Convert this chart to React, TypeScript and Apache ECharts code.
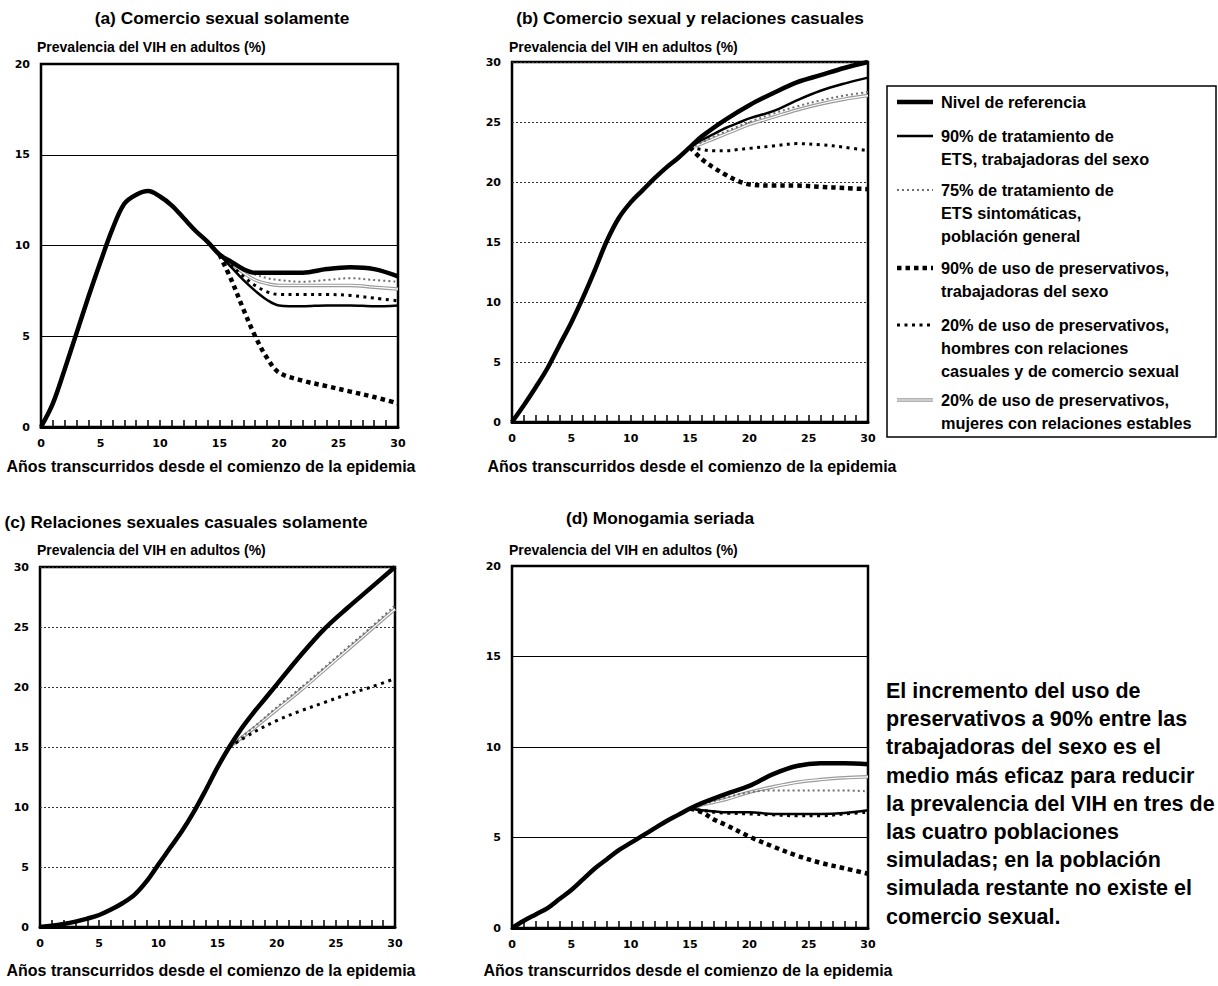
import React, { useEffect, useRef } from "react";
import * as echarts from "echarts";

// ---------------- DATA ----------------
const xTickValues = [0, 5, 10, 15, 20, 25, 30];

// (a) Comercio sexual solamente
const yrsRefA = [0, 1, 2, 3, 4, 5, 6, 7, 8, 9, 10, 11, 12, 13, 14, 15, 16, 17, 18, 19, 20, 22, 24, 26, 28, 30];
const refA = [0, 1.3, 3.2, 5.2, 7.2, 9.1, 10.9, 12.3, 12.8, 13.0, 12.7, 12.2, 11.5, 10.8, 10.2, 9.5, 9.1, 8.7, 8.5, 8.5, 8.5, 8.5, 8.7, 8.8, 8.7, 8.3];
const yrsBrA = [15, 16, 17, 18, 19, 20, 22, 24, 26, 28, 30];
const ets90A = [9.5, 8.8, 8.1, 7.5, 7.0, 6.7, 6.65, 6.7, 6.7, 6.65, 6.7];
const sti75A = [9.5, 9.1, 8.7, 8.4, 8.2, 8.1, 8.0, 8.1, 8.2, 8.1, 8.0];
const cond90A = [9.5, 8.1, 6.5, 5.0, 3.8, 3.0, 2.55, 2.25, 1.95, 1.65, 1.3];
const men20A = [9.5, 8.9, 8.3, 7.8, 7.45, 7.3, 7.3, 7.3, 7.25, 7.1, 6.95];
const women20A = [9.5, 9.0, 8.5, 8.1, 7.9, 7.8, 7.8, 7.8, 7.8, 7.7, 7.6];

// (b) Comercio sexual y relaciones casuales
const yrsRefB = [0, 1, 2, 3, 4, 5, 6, 7, 8, 9, 10, 11, 12, 13, 14, 15, 16, 18, 20, 22, 24, 26, 28, 30];
const refB = [0, 1.4, 2.9, 4.5, 6.4, 8.3, 10.4, 12.7, 15.1, 17.0, 18.3, 19.3, 20.3, 21.2, 22.0, 22.9, 23.8, 25.2, 26.4, 27.4, 28.3, 28.9, 29.5, 30.0];
const yrsBrB = [15, 16, 17, 18, 19, 20, 22, 24, 26, 28, 30];
const ets90B = [22.9, 23.5, 24.0, 24.5, 24.9, 25.3, 25.9, 26.8, 27.6, 28.2, 28.7];
const sti75B = [22.9, 23.3, 23.8, 24.2, 24.6, 25.0, 25.7, 26.3, 26.8, 27.2, 27.5];
const women20B = [22.9, 23.2, 23.6, 24.0, 24.4, 24.8, 25.4, 26.0, 26.5, 26.9, 27.2];
const men20B = [22.9, 22.7, 22.6, 22.6, 22.7, 22.8, 23.0, 23.2, 23.1, 22.9, 22.6];
const cond90B = [22.9, 21.9, 21.2, 20.6, 20.1, 19.8, 19.7, 19.7, 19.6, 19.5, 19.4];

// (c) Relaciones sexuales casuales solamente
const yrsRefC = [0, 1, 2, 3, 4, 5, 6, 7, 8, 9, 10, 11, 12, 13, 14, 15, 16, 17, 18, 19, 20, 22, 24, 26, 28, 30];
const refC = [0, 0.1, 0.25, 0.45, 0.7, 1.0, 1.45, 2.0, 2.7, 3.8, 5.2, 6.6, 8.0, 9.6, 11.4, 13.3, 15.0, 16.5, 17.8, 19.0, 20.2, 22.6, 24.8, 26.6, 28.3, 30.0];
const yrsBrC = [16, 18, 20, 22, 24, 26, 28, 30];
const sti75C = [15.0, 16.6, 18.3, 19.9, 21.6, 23.3, 25.0, 26.8];
const women20C = [15.0, 16.5, 18.1, 19.7, 21.4, 23.1, 24.8, 26.5];
const men20C = [15.0, 16.2, 17.2, 18.0, 18.7, 19.4, 20.0, 20.7];

// (d) Monogamia seriada
const yrsRefD = [0, 1, 2, 3, 4, 5, 6, 7, 8, 9, 10, 11, 12, 13, 14, 15, 16, 18, 20, 22, 24, 26, 28, 30];
const refD = [0, 0.4, 0.75, 1.1, 1.6, 2.1, 2.7, 3.3, 3.8, 4.3, 4.7, 5.1, 5.5, 5.9, 6.25, 6.6, 6.9, 7.4, 7.85, 8.5, 8.95, 9.1, 9.1, 9.05];
const yrsBrD = [15, 16, 17, 18, 20, 22, 24, 26, 28, 30];
const ets90D = [6.6, 6.5, 6.45, 6.4, 6.4, 6.3, 6.3, 6.3, 6.35, 6.5];
const men20D = [6.6, 6.5, 6.4, 6.35, 6.3, 6.25, 6.2, 6.2, 6.3, 6.4];
const cond90D = [6.6, 6.4, 6.0, 5.7, 5.05, 4.5, 4.0, 3.6, 3.3, 3.0];
const sti75D = [6.6, 6.8, 7.0, 7.2, 7.5, 7.6, 7.6, 7.6, 7.6, 7.55];
const women20D = [6.6, 6.8, 6.95, 7.1, 7.5, 7.8, 8.05, 8.2, 8.3, 8.35];

const yMaxes = [20, 30, 30, 20];
const panelTitles = [
  "(a) Comercio sexual solamente",
  "(b) Comercio sexual y relaciones casuales",
  "(c) Relaciones sexuales casuales solamente",
  "(d) Monogamia seriada",
];
const yAxisName = "Prevalencia del VIH en adultos (%)";
const xAxisName = "Años transcurridos desde el comienzo de la epidemia";
const legendNames = [
  "Nivel de referencia",
  "90% de tratamiento de\nETS, trabajadoras del sexo",
  "75% de tratamiento de\nETS sintomáticas,\npoblación general",
  "90% de uso de preservativos,\ntrabajadoras del sexo",
  "20% de uso de preservativos,\nhombres con relaciones\ncasuales y de comercio sexual",
  "20% de uso de preservativos,\nmujeres con relaciones estables",
];
const noteLines = [
  "El incremento del uso de",
  "preservativos a 90% entre las",
  "trabajadoras del sexo es el",
  "medio más eficaz para reducir",
  "la prevalencia del VIH en tres de",
  "las cuatro poblaciones",
  "simuladas; en la población",
  "simulada restante no existe el",
  "comercio sexual.",
];

// ---------------- LAYOUT / STYLE ----------------
const FONT = '"Liberation Sans", Arial, Helvetica, sans-serif';
const NUMFONT = '"DejaVu Sans", "Liberation Sans", sans-serif';
const grids = [
  { left: 41, top: 64, width: 357, height: 363 },
  { left: 512, top: 62, width: 356, height: 360 },
  { left: 40, top: 567, width: 355, height: 360 },
  { left: 512, top: 566, width: 356, height: 362 },
];
const gridDash: any[] = ["solid", [2, 2], [2, 2], "solid"];

const ST: Record<string, any> = {
  ref: { color: "#000", width: 4.5, type: "solid" },
  ets90: { color: "#000", width: 2.5, type: "solid" },
  sti75: { color: "#6e6e6e", width: 2, type: [2, 3] },
  cond90: { color: "#000", width: 4.5, type: [4.5, 4] },
  men20: { color: "#000", width: 3, type: [3, 4.5] },
  women20: { color: "#9a9a9a", width: 3.5, type: "solid" },
  women20in: { color: "#fff", width: 1.2, type: "solid" },
};

function pairs(xs: number[], ys: number[]) {
  return xs.map((x, i) => [x, ys[i]]);
}

function line(key: string, xs: number[], ys: number[], g: number, z: number) {
  return {
    type: "line",
    name: key,
    xAxisIndex: g,
    yAxisIndex: g,
    data: pairs(xs, ys),
    showSymbol: false,
    symbol: "none",
    smooth: 0.35,
    z,
    silent: true,
    lineStyle: { ...ST[key], cap: "butt", join: "round" },
  };
}

function buildOption() {
  const series: any[] = [];
  const panels = [
    { refX: yrsRefA, ref: refA, brX: yrsBrA, ets90: ets90A, sti75: sti75A, cond90: cond90A, men20: men20A, women20: women20A },
    { refX: yrsRefB, ref: refB, brX: yrsBrB, ets90: ets90B, sti75: sti75B, cond90: cond90B, men20: men20B, women20: women20B },
    { refX: yrsRefC, ref: refC, brX: yrsBrC, ets90: null, sti75: sti75C, cond90: null, men20: men20C, women20: women20C },
    { refX: yrsRefD, ref: refD, brX: yrsBrD, ets90: ets90D, sti75: sti75D, cond90: cond90D, men20: men20D, women20: women20D },
  ];
  panels.forEach((p: any, g) => {
    series.push(line("women20", p.brX, p.women20, g, 2));
    series.push(line("women20in", p.brX, p.women20, g, 3));
    series.push(line("sti75", p.brX, p.sti75, g, 4));
    series.push(line("men20", p.brX, p.men20, g, 5));
    if (p.cond90) series.push(line("cond90", p.brX, p.cond90, g, 6));
    if (p.ets90) series.push(line("ets90", p.brX, p.ets90, g, 7));
    series.push(line("ref", p.refX, p.ref, g, 8));
  });

  const graphic: any[] = [];
  const txt = (text: string, x: number, y: number, size: number, align = "left", extra: any = {}) => ({
    type: "text",
    x,
    y,
    silent: true,
    style: {
      text,
      fill: "#000",
      fontFamily: FONT,
      fontWeight: "bold",
      fontSize: size,
      align,
      verticalAlign: "middle",
      ...extra,
    },
  });
  const titlePos = [
    [222, 18],
    [690, 18],
    [186, 522],
    [660, 518],
  ];
  const yNamePos = [
    [37, 47],
    [509, 47],
    [37, 550],
    [509, 550],
  ];
  const xNamePos = [
    [211, 466],
    [692, 466],
    [211, 970],
    [688, 970],
  ];
  for (let i = 0; i < 4; i++) {
    graphic.push(txt(panelTitles[i], titlePos[i][0], titlePos[i][1], 17.3, "center"));
    graphic.push(txt(yAxisName, yNamePos[i][0], yNamePos[i][1], 14, "left"));
    graphic.push(txt(xAxisName, xNamePos[i][0], xNamePos[i][1], 16, "center"));
  }

  // legend box
  graphic.push({
    type: "rect",
    silent: true,
    shape: { x: 887, y: 86, width: 329, height: 351 },
    style: { fill: "#fff", stroke: "#000", lineWidth: 1.5 },
    z: 1,
  });
  const legKeys = ["ref", "ets90", "sti75", "cond90", "men20", "women20"];
  const legY = [102, 136, 190, 268, 325, 400];
  legKeys.forEach((k, i) => {
    const s = ST[k];
    const y = legY[i];
    graphic.push({
      type: "line",
      silent: true,
      z: 2,
      shape: { x1: 897, y1: y, x2: 933, y2: y },
      style: { stroke: s.color, lineWidth: s.width, lineDash: Array.isArray(s.type) ? s.type : null },
    });
    if (k === "women20") {
      graphic.push({
        type: "line",
        silent: true,
        z: 3,
        shape: { x1: 897, y1: y, x2: 933, y2: y },
        style: { stroke: "#fff", lineWidth: 1.2 },
      });
    }
    graphic.push({
      type: "text",
      silent: true,
      z: 3,
      x: 941,
      y: y - 11.5,
      style: {
        text: legendNames[i],
        fill: "#000",
        fontFamily: FONT,
        fontWeight: "bold",
        fontSize: 16.3,
        lineHeight: 23,
        align: "left",
        verticalAlign: "top",
      },
    });
  });

  // note text
  noteLines.forEach((l, i) => {
    graphic.push(txt(l, 886, 691 + i * 28.2, 21.5, "left", { fontWeight: 900 }));
  });

  const labelStyle = { fontFamily: NUMFONT, fontWeight: "bold", fontSize: 11, color: "#000" };

  return {
    animation: false,
    backgroundColor: "#fff",
    grid: grids.map((g) => ({
      ...g,
      show: true,
      borderColor: "#000",
      borderWidth: 2.5,
      backgroundColor: "transparent",
      containLabel: false,
    })),
    xAxis: grids.map((_, i) => ({
      type: "value",
      gridIndex: i,
      min: 0,
      max: 30,
      interval: 1,
      axisLine: { show: true, onZero: false, lineStyle: { color: "#000", width: 3 } },
      axisTick: { show: true, inside: true, length: 7, lineStyle: { color: "#000", width: 1.5 } },
      axisLabel: {
        ...labelStyle,
        margin: 11,
        hideOverlap: false,
        formatter: (v: number) => (xTickValues.includes(v) ? String(v) : ""),
      },
      splitLine: { show: false },
    })),
    yAxis: grids.map((_, i) => ({
      type: "value",
      gridIndex: i,
      min: 0,
      max: yMaxes[i],
      interval: 5,
      axisLine: { show: false },
      axisTick: { show: false },
      axisLabel: { ...labelStyle, margin: 11 },
      splitLine: { show: true, lineStyle: { color: i === 0 || i === 3 ? "#000" : "#333", width: 1, type: gridDash[i] } },
    })),
    series,
    graphic,
  };
}

export default function App() {
  const ref = useRef<HTMLDivElement>(null);
  useEffect(() => {
    if (!ref.current) return;
    const chart = echarts.init(ref.current, undefined, { renderer: "svg" });
    chart.setOption(buildOption() as any);
    return () => chart.dispose();
  }, []);
  return (
    <div
      ref={ref}
      style={{ position: "absolute", left: 0, top: 0, width: 1218, height: 986, background: "#fff" }}
    />
  );
}
